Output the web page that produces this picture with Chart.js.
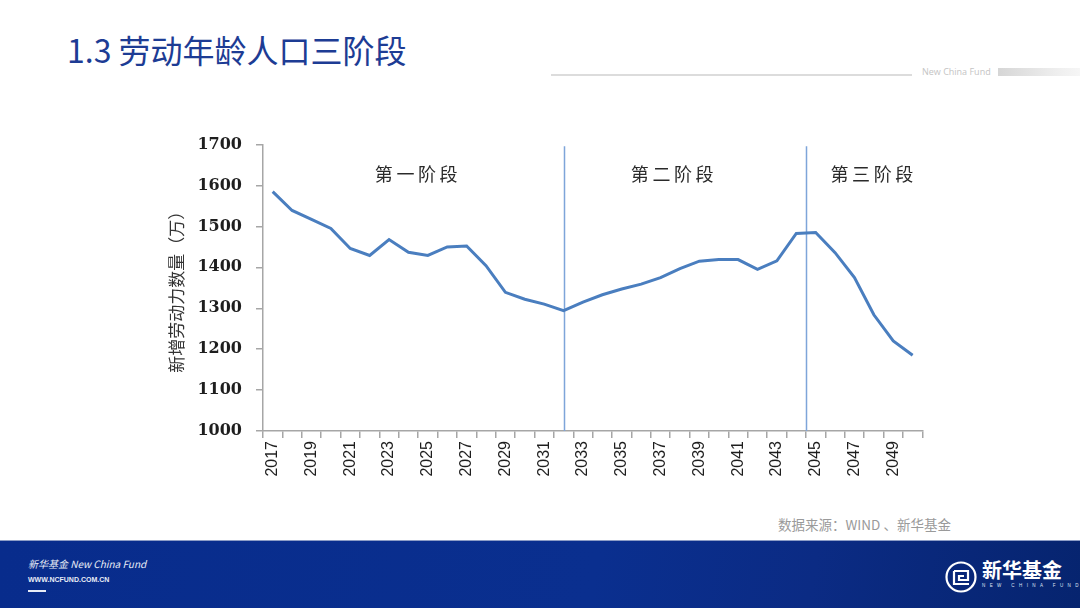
<html>
  <head>
    <meta charset="utf-8">
    <title>1.3 劳动年龄人口三阶段</title>
    <script src="https://cdn.jsdelivr.net/npm/chart.js@4.4.0/dist/chart.umd.min.js"></script>
    <style>
      body { margin: 0; width: 1080px; height: 608px; overflow: hidden; background: #fff; position: relative; font-family: "Noto Sans CJK SC", "Noto Sans", sans-serif; }
      .abs { position: absolute; white-space: nowrap; }
      #title { left: 67px; top: 26px; font-size: 32px; line-height: 46px; color: #1d3c94; font-weight: 400; }
      #hline { left: 551px; top: 74px; width: 361px; height: 2px; background: #dcdcdc; }
      #brand { left: 922px; top: 66px; font-size: 9px; line-height: 12px; color: #c4c4c4; font-family: "Open Sans", sans-serif; }
      #bar { left: 998px; top: 68px; width: 82px; height: 8px; background: linear-gradient(to right, #d6d6d6, #eeeeee 70%, #f6f6f6); }
      #wrap { left: 160px; top: 121px; width: 775px; height: 357px; }
      #source { left: 778px; top: 514px; font-size: 13.5px; line-height: 20px; color: #9a9a9a; }
      #footer { left: 0; top: 540px; width: 1080px; height: 68px; border-top: 1px solid #8d9dc6; box-sizing: border-box;
                background: linear-gradient(100deg, #082c8c 0%, #0a2f8f 55%, #0b2b84 75%, #06246f 100%); }
    </style>
  </head>
  <body>
    <div id="title" class="abs">1.3 劳动年龄人口三阶段</div>
    <div id="hline" class="abs"></div>
    <div id="brand" class="abs">New China Fund</div>
    <div id="bar" class="abs"></div>

    <div id="wrap" class="abs"><canvas id="myChart" width="775" height="357"></canvas></div>

    <div id="source" class="abs">数据来源：WIND 、新华基金</div>

    <div id="footer" class="abs">
      <div class="abs" style="left:28px;top:17px;font-size:10px;line-height:12px;color:#e8ecf6;font-style:italic;">新华基金 New China Fund</div>
      <div class="abs" style="left:28px;top:34px;font-size:7px;line-height:9px;color:#e8ecf6;font-weight:bold;font-family:'Liberation Sans',sans-serif;">WWW.NCFUND.COM.CN</div>
      <div class="abs" style="left:28px;top:49px;width:18px;height:2px;background:#e8ecf6;"></div>
      <svg class="abs" style="left:944px;top:19px;" width="34" height="34" viewBox="0 0 34 34">
        <circle cx="17" cy="17" r="14.5" fill="none" stroke="#fff" stroke-width="2.2"/>
        <path d="M10 11 H24 V20 H15 V16 H20" fill="none" stroke="#fff" stroke-width="2.2"/>
        <path d="M10 11 V24 H25" fill="none" stroke="#fff" stroke-width="2.2"/>
      </svg>
      <div class="abs" style="left:982px;top:17px;font-size:20px;line-height:24px;color:#fff;font-weight:bold;">新华基金</div>
      <div class="abs" style="left:982px;top:42px;font-size:4.5px;line-height:6px;color:#dfe5f3;letter-spacing:4.4px;font-family:'Liberation Sans',sans-serif;">NEW CHINA FUND</div>
    </div>

    <script type="text/javascript">
      // years on the x axis
      const years = ['2017','2018','2019','2020','2021','2022','2023','2024','2025','2026','2027','2028',
                     '2029','2030','2031','2032','2033','2034','2035','2036','2037','2038','2039','2040',
                     '2041','2042','2043','2044','2045','2046','2047','2048','2049','2050'];
      // 新增劳动力数量（万）
      const newLabour = [1585, 1539, 1517, 1495, 1446, 1429, 1468, 1437, 1429, 1450, 1452, 1404,
                         1339, 1322, 1310, 1294, 1315, 1333, 1347, 1359, 1375, 1397, 1415, 1419,
                         1419, 1395, 1416, 1483, 1485, 1436, 1375, 1284, 1220, 1185];
      const yTicks = [1000, 1100, 1200, 1300, 1400, 1500, 1600, 1700];
      // stage boundaries (year) and stage names with the year they are centred on
      const stageBreaks = [2032, 2044.5];
      const stageNames = ['第一阶段', '第二阶段', '第三阶段'];
      const stageCentres = [2024.4, 2037.6, 2047.9];

      const axisGrey = '#a6a6a6';

      const stagePlugin = {
        id: 'stages',
        beforeDatasetsDraw(chart) {
          const c = chart.ctx, x = chart.scales.x, y = chart.scales.y;
          const first = Number(years[0]);
          c.save();
          c.strokeStyle = '#7ea5d9';
          c.lineWidth = 1.5;
          stageBreaks.forEach(yr => {
            const px = Math.round(x.getPixelForValue(yr - first)) + 0.5;
            c.beginPath();
            c.moveTo(px, y.getPixelForValue(1696));
            c.lineTo(px, y.getPixelForValue(1000));
            c.stroke();
          });
          c.fillStyle = '#2a2a2a';
          c.font = '18px "Noto Sans CJK SC"';
          c.textAlign = 'center';
          c.textBaseline = 'middle';
          stageNames.forEach((name, i) => {
            const px = x.getPixelForValue(stageCentres[i] - first);
            c.fillText(name.split('').join('\u2009'), px, y.getPixelForValue(1627));
          });
          c.restore();
        }
      };

      var ctx = document.getElementById('myChart').getContext('2d');
      var chart = new Chart(ctx, {
        type: 'line',
        data: {
          labels: years,
          datasets: [{
            label: '新增劳动力数量',
            data: newLabour,
            borderColor: '#4a7ebf',
            borderWidth: 3,
            pointRadius: 0,
            tension: 0,
            fill: false
          }]
        },
        options: {
          responsive: false,
          animation: false,
          layout: { padding: { top: 10, right: 11, left: 0, bottom: 0 } },
          plugins: { legend: { display: false }, tooltip: { enabled: false } },
          scales: {
            x: {
              type: 'category',
              offset: true,
              grid: { offset: true, drawOnChartArea: false, tickLength: 7, color: axisGrey, lineWidth: 1.5 },
              border: { color: axisGrey, width: 1.5 },
              ticks: {
                autoSkip: false, maxRotation: 90, minRotation: 90, padding: 3,
                color: '#1e1e1e', font: { family: 'Liberation Sans', size: 16 },
                callback: (v, i) => (i % 2 === 0 ? years[i] : '')
              },
              afterFit: s => { s.height = 47; }
            },
            y: {
              min: 1000, max: 1700,
              afterBuildTicks: s => { s.ticks = yTicks.map(v => ({ value: v })); },
              grid: { drawOnChartArea: false, tickLength: 7, color: axisGrey, lineWidth: 1.5 },
              border: { color: axisGrey, width: 1.5 },
              ticks: {
                padding: 14, color: '#1e1e1e', font: { family: 'DejaVu Serif', size: 16, weight: 'bold' },
                callback: v => String(v)
              },
              title: {
                display: true, text: '新增劳动力数量（万）', color: '#333',
                font: { family: 'Noto Sans CJK SC', size: 17 }, padding: { top: 6, bottom: 0 }
              },
              afterFit: s => { s.width = 103; }
            }
          }
        },
        plugins: [stagePlugin]
      });
    </script>
  </body>
</html>
